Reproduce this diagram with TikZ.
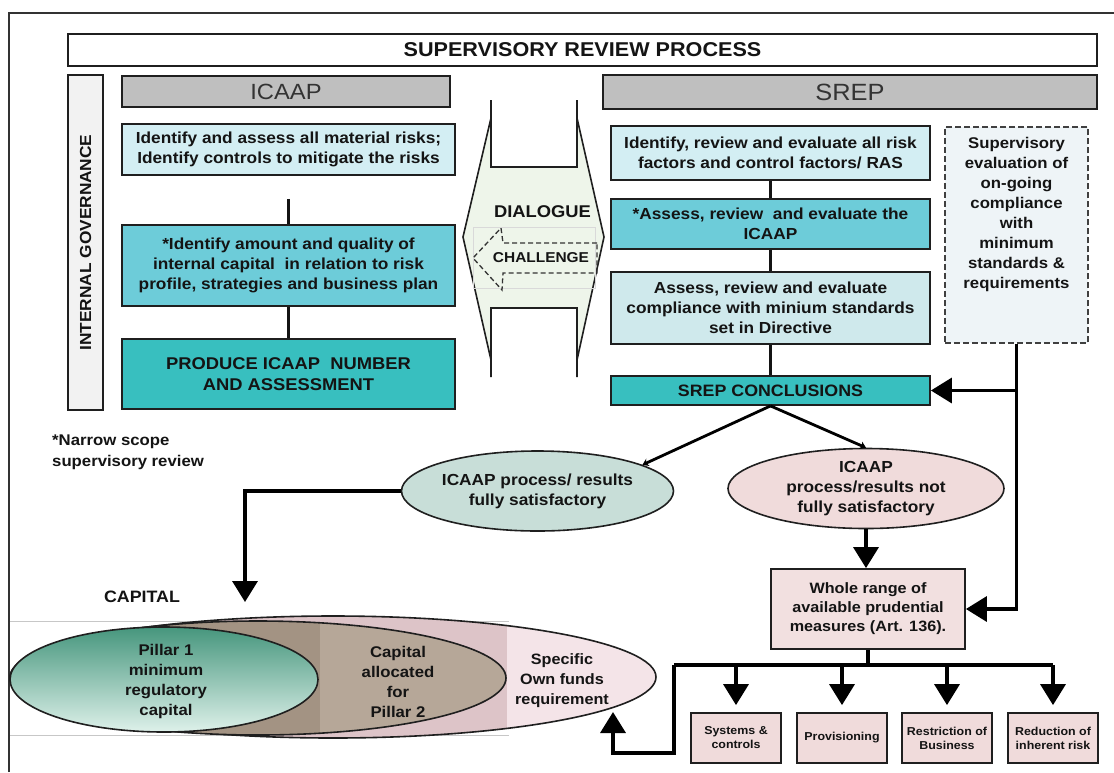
\documentclass[tikz,border=0pt]{standalone}
\usepackage{fontspec}
\setmainfont{Liberation Sans}[FakeStretch=1.08]
\usetikzlibrary{arrows.meta,shapes.geometric}

\definecolor{cyanlight}{HTML}{D3EEF3}
\definecolor{cyanmid}{HTML}{6DCCD9}
\definecolor{tealbox}{HTML}{38BFBF}
\definecolor{greycyan}{HTML}{CFE9EC}
\definecolor{hdrgray}{HTML}{BFBFBF}
\definecolor{iggray}{HTML}{F2F2F2}
\definecolor{dashfill}{HTML}{EEF4F7}
\definecolor{dlgfill}{HTML}{EEF5EA}
\definecolor{satfill}{HTML}{C8DED8}
\definecolor{pinkfill}{HTML}{F0DBDB}
\definecolor{pinklight}{HTML}{F4E4E8}
\definecolor{pinkmid}{HTML}{DDC4C8}
\definecolor{taupe}{HTML}{B6A798}
\definecolor{taupedark}{HTML}{A39383}
\definecolor{greentop}{RGB}{70,150,125}
\definecolor{greenmid}{RGB}{120,195,170}
\definecolor{greenbot}{RGB}{222,241,234}

\newcommand{\fsz}[2]{\fontsize{#1}{#2}\selectfont}

\tikzset{
  box/.style={rectangle, draw=black!88, line width=1.8pt, align=center,
    inner sep=0pt, text=black!92, font=\bfseries\fsz{16}{20}},
  hdrbox/.style={box, fill=hdrgray, font=\fsz{22}{26}, text=black!80},
  oval/.style={ellipse, draw=black!88, line width=1.6pt, align=center,
    inner sep=0pt, text=black!92, font=\bfseries\fsz{16}{20}},
  txt/.style={align=center, inner sep=0pt, text=black!92,
    font=\bfseries\fsz{16}{20}},
  link/.style={draw=black!92, line width=2.4pt},
  heavy/.style={draw=black, line width=3.5pt},
  bigarrow/.style={heavy, -{Triangle[width=25pt,length=21pt]}},
  smallarrow/.style={draw=black, line width=2.8pt, -{Stealth[width=8pt,length=6pt]}},
  outline/.style={draw=black!88, line width=1.6pt},
}

\begin{document}
\begin{tikzpicture}[x=1pt,y=-1pt]
\useasboundingbox (0,0) rectangle (1114,772);
\fill[white] (0,0) rectangle (1114,772);

% outer frame
\draw[line width=1.4pt, black!80] (9,772) -- (9,13) -- (1114,13);

% title and column headers
\node[box, minimum width=1029, minimum height=32, font=\bfseries\fsz{20}{24}]
  (title) at (582.5,50) {SUPERVISORY REVIEW PROCESS};
\node[box, fill=iggray, minimum width=335, minimum height=35, rotate=90]
  (gov) at (85.5,242.5) {INTERNAL GOVERNANCE};
\node[hdrbox, minimum width=328, minimum height=31] (icaap) at (286,91.5) {ICAAP};
\node[hdrbox, minimum width=494, minimum height=34, font=\fsz{23.5}{28}]
  (srep) at (850,92) {SREP};

% ICAAP column
\node[box, fill=cyanlight, minimum width=333, minimum height=51] (l1) at (288.5,149.5)
  {Identify and assess all material risks;\\Identify controls to mitigate the risks};
\node[box, fill=cyanmid, minimum width=333, minimum height=81] (l2) at (288.5,265.5)
  {*Identify amount and quality of\\internal capital\ \ in relation to risk\\profile, strategies and business plan};
\node[box, fill=tealbox, minimum width=333, minimum height=70, font=\bfseries\fsz{17}{21}]
  (l3) at (288.5,374) {PRODUCE ICAAP\ \ NUMBER\\AND ASSESSMENT};
\draw[link, shorten <=23pt] (l1.south) -- (l2.north);
\draw[link] (l2.south) -- (l3.north);

% SREP column
\node[box, fill=cyanlight, minimum width=319, minimum height=54] (r1) at (770.5,153)
  {Identify, review and evaluate all risk\\factors and control factors/ RAS};
\node[box, fill=cyanmid, minimum width=319, minimum height=50] (r2) at (770.5,224)
  {*Assess, review\ \ and evaluate the\\ICAAP};
\node[box, fill=greycyan, minimum width=319, minimum height=72] (r3) at (770.5,308)
  {Assess, review and evaluate\\compliance with minium standards\\set in Directive};
\node[box, fill=tealbox, minimum width=319, minimum height=29, font=\bfseries\fsz{16.5}{20}]
  (srepc) at (770.5,390.5) {SREP CONCLUSIONS};
\draw[link] (r1.south) -- (r2.north);
\draw[link] (r2.south) -- (r3.north);
\draw[link] (r3.south) -- (srepc.north);

% on-going supervisory evaluation
\node[rectangle, draw=black!75, line width=2pt, dash pattern=on 6pt off 3pt,
  fill=dashfill, minimum width=143, minimum height=216] (ongoing) at (1016.5,235) {};
\node[txt, anchor=north, font=\bfseries\fsz{15.5}{20}] (ongoingtxt) at (1016.5,137)
  {Supervisory\\evaluation of\\on-going\\compliance\\with\\minimum\\standards \&\\requirements};

% dialogue / challenge shape between the columns
\fill[dlgfill] (491,118) -- (491,167) -- (577,167) -- (577,118) -- (604,237)
  -- (577,360) -- (577,308) -- (491,308) -- (491,360) -- (463,237) -- cycle;
\draw[outline] (491,100) -- (491,167) -- (577,167) -- (577,100);
\draw[outline] (491,377) -- (491,308) -- (577,308) -- (577,377);
\draw[outline] (491,100) -- (491,118) -- (463,237) -- (491,360) -- (491,377);
\draw[outline] (577,100) -- (577,118) -- (604,237) -- (577,360) -- (577,377);
\draw[black!15, line width=0.8pt] (473,227) rectangle (595,288);
\draw[black!80, line width=1.3pt, dash pattern=on 5pt off 3pt]
  (597,243) -- (503,243) -- (501,228) -- (473,258) -- (502,290) -- (503,273) -- (597,273) -- cycle;
\node[txt, font=\bfseries\fsz{17}{20}] (dialogue) at (542.5,212) {DIALOGUE};
\node[txt, font=\bfseries\fsz{14.3}{18}] (challenge) at (541,258) {CHALLENGE};

% footnote
\node[txt, anchor=west, align=left, font=\bfseries\fsz{15.5}{21}] (note) at (52,452)
  {*Narrow scope\\supervisory review};

% outcome ovals
\node[oval, fill=satfill, minimum width=272, minimum height=80] (sat) at (537.5,491)
  {ICAAP process/ results\\fully satisfactory};
\node[oval, fill=pinkfill, minimum width=276, minimum height=80] (notsat) at (866,488.5)
  {ICAAP\\process/results not\\fully satisfactory};
\draw[smallarrow] (srepc.south) -- (sat.14);
\draw[smallarrow] (srepc.south) -- (notsat.north);

% capital ovals
\draw[black!22, line width=1pt] (10,621) -- (509,621);
\draw[black!22, line width=1pt] (10,735) -- (509,735);
\fill[pinklight] (333,677) ellipse [x radius=323, y radius=61];
\begin{scope}
  \clip (333,677) ellipse [x radius=323, y radius=61];
  \fill[pinkmid] (180,600) rectangle (507,760);
\end{scope}
\draw[outline] (333,677) ellipse [x radius=323, y radius=61];
\fill[taupe] (258,678) ellipse [x radius=248, y radius=57];
\begin{scope}
  \clip (258,678) ellipse [x radius=248, y radius=57];
  \fill[taupedark] (150,600) rectangle (320,760);
\end{scope}
\draw[outline] (258,678) ellipse [x radius=248, y radius=57];
\shade[top color=greentop, middle color=greenmid, bottom color=greenbot]
  (164,679.5) ellipse [x radius=154, y radius=52.5];
\draw[outline] (164,679.5) ellipse [x radius=154, y radius=52.5];
\node[txt, font=\bfseries\fsz{15.5}{20}] (pillar1) at (166,681)
  {Pillar 1\\minimum\\regulatory\\capital};
\node[txt, font=\bfseries\fsz{15.5}{20}] (pillar2) at (398,682)
  {Capital\\allocated\\for\\Pillar 2};
\node[txt, font=\bfseries\fsz{15}{20}] (ownfunds) at (562,681)
  {Specific\\Own funds\\requirement};
\node[txt, font=\bfseries\fsz{16.5}{20}] (capital) at (142,597) {CAPITAL};

\coordinate (capin) at (245,602);
\draw[bigarrow] (sat.west) -| (capin);

% prudential measures
\node[box, fill=pinkfill!85!white, minimum width=194, minimum height=80,
  font=\bfseries\fsz{15}{19}] (whole) at (868,609)
  {Whole range of\\available prudential\\measures (Art. 136).};
\draw[bigarrow] (notsat.south) -- (notsat.south |- whole.north);
\draw[bigarrow] (ongoing.south) |- (srepc.east);
\draw[bigarrow] (ongoing.south |- srepc.east) |- (whole.east);

\tikzset{small/.style={box, fill=pinkfill, minimum width=90, minimum height=50,
  font=\bfseries\fsz{11.5}{14}}}
\node[small] (b1) at (736,738) {Systems \&\\controls};
\node[small] (b2) at (842,738) {Provisioning};
\node[small] (b3) at (947,738) {Restriction of\\Business};
\node[small] (b4) at (1053,738) {Reduction of\\inherent risk};

\coordinate (busC) at (whole.south |- 0,665);
\coordinate (busL) at (674,665);
\coordinate (busR) at (1053,665);
\draw[heavy] (whole.south) -- (busC);
\draw[heavy] (busL) -- (busR);
\foreach \b in {b1,b2,b3,b4}
  \draw[bigarrow, shorten >=7pt] (\b.north |- busL) -- (\b.north);
\coordinate (retA) at (674,753);
\coordinate (retB) at (613,753);
\coordinate (retTip) at (613,712);
\draw[bigarrow] (busL) -- (retA) -- (retB) -- (retTip);

\end{tikzpicture}
\end{document}
